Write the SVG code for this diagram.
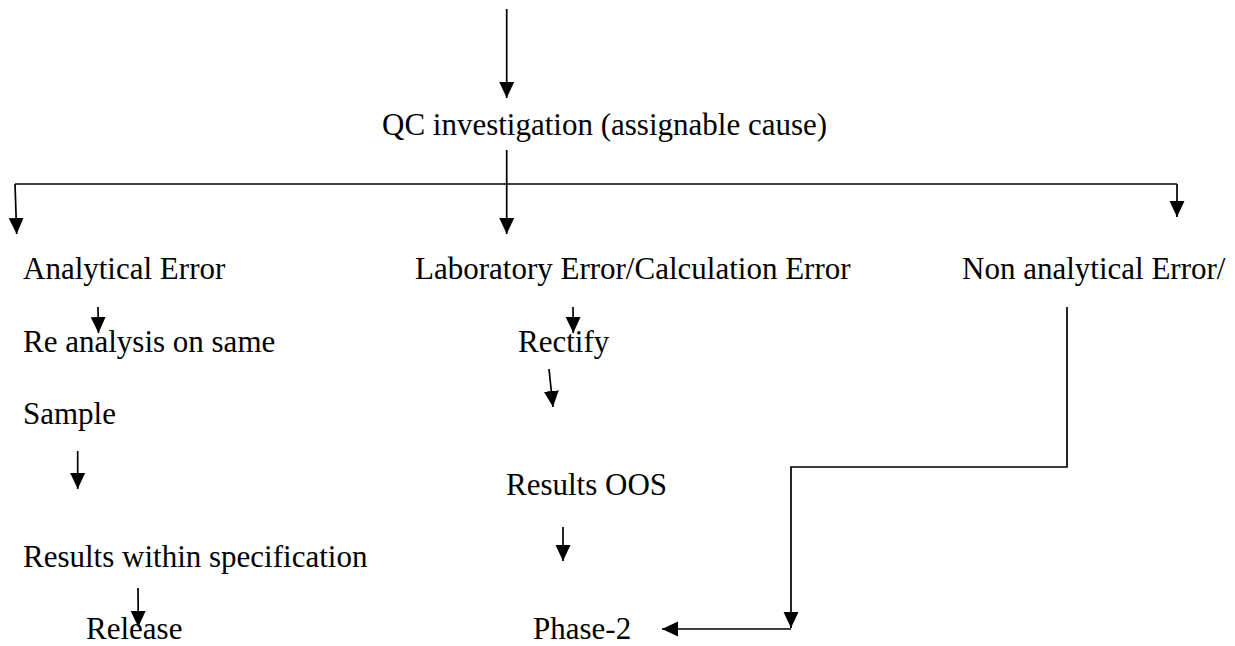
<svg xmlns="http://www.w3.org/2000/svg" width="1235" height="646" viewBox="0 0 1235 646">
<style>
text{font-family:'Liberation Serif','Times New Roman',Times,serif;font-size:31px;fill:#000}
.c{stroke:#000;stroke-width:1.7;fill:none}
.a{marker-end:url(#ah)}
</style>
<defs>
<marker id="ah" markerUnits="userSpaceOnUse" markerWidth="16" markerHeight="16" viewBox="0 0 15 14" refX="15" refY="7" orient="auto">
<path d="M0,0 L15,7 L0,14 z" fill="#000"/>
</marker>
</defs>
<rect width="1235" height="646" fill="#fff"/>
<g id="connectors">
<line class="c a" x1="506.7" y1="9" x2="506.7" y2="98"/>
<line class="c a" x1="506.7" y1="150" x2="506.7" y2="234"/>
<polyline class="c" points="15,184 1177,184"/>
<line class="c a" x1="15" y1="184" x2="16.7" y2="234"/>
<line class="c a" x1="1177" y1="184" x2="1177" y2="217"/>
<line class="c a" x1="98" y1="307" x2="98.5" y2="333"/>
<line class="c a" x1="77.7" y1="451" x2="77.7" y2="489"/>
<line class="c a" x1="138" y1="588" x2="138.3" y2="627"/>
<line class="c a" x1="573" y1="307" x2="573.3" y2="333"/>
<line class="c a" x1="549" y1="369" x2="553" y2="407"/>
<line class="c a" x1="563" y1="527" x2="563" y2="561"/>
<polyline class="c a" points="1067,307 1067,467 791,467 791,628"/>
<line class="c a" x1="791" y1="629" x2="662" y2="629"/>
</g>
<g font-family="Liberation Serif, serif">
<g id="n-top"><text x="382" y="135">QC investigation (assignable cause)</text></g>
<g id="n-analytical"><text x="23" y="279">Analytical Error</text></g>
<g id="n-lab"><text x="415" y="279">Laboratory Error/Calculation Error</text></g>
<g id="n-nonanalytical"><text x="962" y="279">Non analytical Error/</text></g>
<g id="n-reanalysis"><text x="23" y="352">Re analysis on same</text><text x="23" y="424">Sample</text></g>
<g id="n-within"><text x="23" y="567">Results within specification</text></g>
<g id="n-release"><text x="86" y="639">Release</text></g>
<g id="n-rectify"><text x="518" y="352">Rectify</text></g>
<g id="n-oos"><text x="506" y="495">Results OOS</text></g>
<g id="n-phase2"><text x="533" y="639">Phase-2</text></g>
</g>
</svg>
